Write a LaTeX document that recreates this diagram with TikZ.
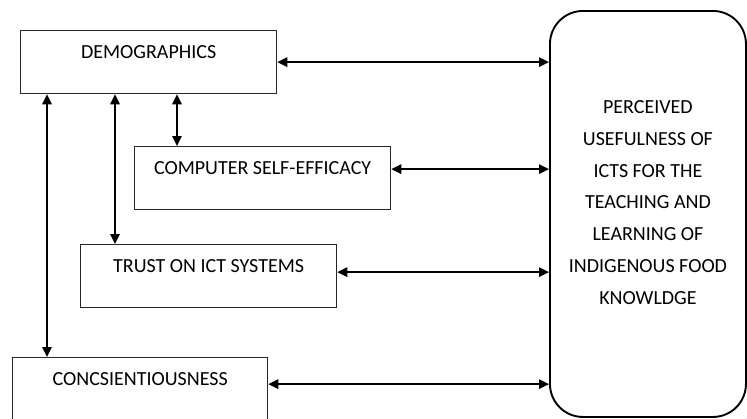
\documentclass[tikz,border=0pt]{standalone}
\usepackage{fontspec}
\setmainfont{Carlito}
\usetikzlibrary{arrows.meta,positioning,calc}

\begin{document}
\begin{tikzpicture}[
  x=1pt, y=-1pt,
  every node/.style={font=\fontsize{20}{24}\selectfont, text=black},
  factor/.style={
    rectangle, draw=black!85, line width=1.3pt,
    minimum width=256pt, inner xsep=0pt, inner ysep=0pt,
    text height=28pt, text depth=35pt, anchor=north west},
  salida/.style={
    rectangle, rounded corners=33pt,
    draw=black, line width=1.9pt,
    minimum width=196pt, minimum height=406pt,
    align=center, text depth=23pt,
    font=\fontsize{20}{31.8}\selectfont, anchor=north west},
  flecha/.style={<->, draw=black, line width=1.4pt},
  >={Triangle[length=10pt,width=9.5pt]}
]
  \useasboundingbox (0,0) rectangle (747,418);

  %% ── Nodes ─────────────────────────────────────────────────
  \node[factor](D) at (20,30) {DEMOGRAPHICS};
  \node[factor](C) at (134,146) {COMPUTER SELF-EFFICACY};
  \node[factor](T) at (80,244) {TRUST ON ICT SYSTEMS};
  \node[factor, minimum width=255pt](K) at (12,357) {CONCSIENTIOUSNESS};

  \node[salida](P) at (549,10) {
    PERCEIVED\\
    USEFULNESS OF\\
    ICTS FOR THE\\
    TEACHING AND\\
    LEARNING OF\\
    INDIGENOUS FOOD\\
    KNOWLDGE};

  %% ── Factors -> perceived usefulness ──────────────────────
  \coordinate (c1) at ([yshift=9pt]C.east);
  \coordinate (t1) at ([yshift=4pt]T.east);
  \coordinate (k1) at ([yshift=5pt]K.east);
  \draw[flecha] (D.east) -- (D.east -| P.west);
  \draw[flecha] (c1) -- (c1 -| P.west);
  \draw[flecha] (t1) -- (t1 -| P.west);
  \draw[flecha] (k1) -- (k1 -| P.west);

  %% ── Demographics <-> other factors ───────────────────────
  \coordinate (d1) at ([xshift=27pt]D.south west);
  \coordinate (d2) at ([xshift=95pt]D.south west);
  \coordinate (d3) at ([xshift=157pt]D.south west);
  \draw[flecha] (d1) -- (d1 |- K.north);
  \draw[flecha] (d2) -- (d2 |- T.north);
  \draw[flecha] (d3) -- (d3 |- C.north);

\end{tikzpicture}
\end{document}
